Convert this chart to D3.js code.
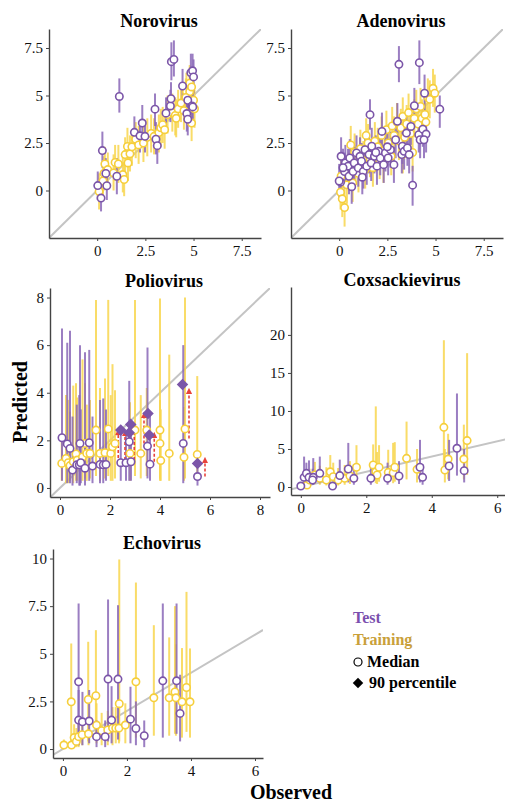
<!DOCTYPE html>
<html>
<head>
<meta charset="utf-8">
<script src="https://cdn.jsdelivr.net/npm/d3@7"></script>
<style>
  body { margin: 0; background: #fff; }
</style>
</head>
<body>
<div id="container"></div>
<script>
// rows: [observed, median predicted, low, high]
let noroTest = [[0.03,0.26,-0.5,1.0],[0.27,2.1,1.2,3.1],[0.2,-0.4,-1.1,0.4],[0.45,0.9,0.1,1.7],[0.5,0.25,-0.5,1.0],
  [1.02,0.75,-0.2,1.7],[1.15,4.95,4.1,5.9],[1.93,3.06,2.2,3.9],[2.34,3.55,2.7,4.5],[2.22,2.88,2.0,3.7],
  [2.48,2.85,2.0,3.7],[3.0,4.28,3.4,5.1],[3.05,2.7,1.9,3.6],[3.12,2.36,1.4,3.2],[3.57,4.07,3.2,4.9],
  [3.8,4.45,3.6,5.3],[3.83,4.83,4.0,5.7],[3.85,6.78,5.8,7.8],[3.98,6.9,6.0,7.9],[4.43,5.5,4.6,6.4],
  [4.7,4.75,3.9,5.6],[4.65,4.05,3.1,4.9],[4.7,3.75,2.9,4.6],[4.86,6.2,5.3,7.2],[4.95,6.3,5.4,7.2],
  [5.0,5.98,5.1,6.9],[4.92,4.45,3.6,5.3],[4.96,4.4,3.5,5.2]]
let noroTrain = [[0.1,-0.05,-1.0,0.9],[0.3,0.5,-0.4,1.4],[0.4,1.4,0.5,2.3],[0.35,0.9,0.0,1.8],[0.55,1.1,0.2,2.0],
  [0.85,0.92,0.0,1.9],[0.93,1.48,0.5,2.4],[1.1,1.4,0.4,2.4],[1.33,0.84,-0.1,1.8],[1.4,0.58,-0.3,1.5],
  [1.45,1.89,0.9,2.8],[1.57,2.32,1.3,3.3],[1.6,1.45,0.5,2.4],[1.7,1.93,1.0,2.9],[1.8,2.3,1.3,3.2],
  [2.0,2.7,1.7,3.6],[2.15,2.4,1.4,3.4],[2.4,2.5,1.5,3.5],[2.6,2.8,1.8,3.8],[2.8,3.0,2.0,4.0],
  [2.95,2.85,1.9,3.8],[3.2,3.05,2.0,4.0],[3.3,3.3,2.3,4.3],[3.4,3.46,2.5,4.4],[3.5,3.2,2.2,4.2],
  [3.65,4.0,3.0,5.0],[3.9,4.1,3.1,5.1],[4.05,3.95,2.9,4.9],[4.1,3.8,2.8,4.8],[4.2,4.3,3.3,5.3],
  [4.35,4.6,3.6,5.6],[4.5,4.2,3.2,5.2],[4.63,5.2,4.2,6.2],[4.8,5.2,4.2,6.2],[4.8,5.65,4.6,6.6],
  [4.9,5.45,4.4,6.4],[5.0,4.75,3.8,5.7],[5.05,4.3,3.3,5.3],[4.9,3.55,2.6,4.5],[4.6,4.9,3.9,5.9]]

let adenoTest = [[0.1,1.8,0.9,2.8],[0.07,0.44,-0.5,1.4],[0.0,0.5,-0.4,1.4],[0.32,1.45,0.5,2.4],[0.28,1.0,0.1,2.0],
  [0.46,1.28,0.3,2.2],[0.55,1.71,0.8,2.7],[0.51,0.75,-0.2,1.7],[0.72,1.0,0.1,2.0],[0.78,1.45,0.5,2.4],
  [0.9,1.98,1.0,2.9],[0.99,1.19,0.2,2.1],[1.08,1.8,0.9,2.8],[1.16,1.54,0.6,2.5],[1.25,1.01,0.1,2.0],
  [1.34,2.15,1.2,3.1],[1.43,1.28,0.3,2.2],[1.55,1.89,0.9,2.8],[1.6,3.99,3.2,4.8],[1.66,1.45,0.5,2.4],
  [1.69,2.33,1.4,3.3],[1.83,1.8,0.9,2.8],[1.96,1.28,0.3,2.2],[2.05,2.06,1.1,3.0],[2.13,1.71,0.8,2.7],
  [2.22,3.11,2.2,4.1],[2.31,1.36,0.4,2.3],[2.4,1.98,1.0,2.9],[2.54,1.71,0.8,2.7],[2.66,2.15,1.2,3.1],
  [2.84,1.36,0.4,2.3],[2.93,2.67,1.7,3.6],[3.02,3.64,2.7,4.6],[3.1,6.64,5.7,7.6],[3.25,1.89,0.9,2.8],
  [3.28,2.33,1.4,3.3],[3.37,2.06,1.1,3.0],[3.49,3.02,2.1,4.0],[3.54,2.24,1.3,3.2],[3.63,1.89,0.9,2.8],
  [3.72,3.37,2.4,4.3],[3.81,0.28,-0.8,1.3],[3.9,4.46,3.5,5.4],[4.13,2.94,2.0,3.9],[4.16,6.73,5.6,7.9],
  [4.2,2.67,1.7,3.6],[4.34,3.23,2.3,4.2],[4.43,5.12,4.1,6.1],[4.51,2.97,2.0,3.9],[4.4,2.67,1.7,3.6],
  [5.22,4.28,3.3,5.0],[0.2,1.2,0.3,2.2],[0.65,0.2,-0.7,1.1],[1.9,2.0,1.0,2.9],[2.5,2.3,1.3,3.2],[1.2,0.7,-0.2,1.6]]
let adenoTrain = [[0.1,0.75,-0.2,1.7],[0.07,-0.09,-1.0,0.9],[0.16,-0.44,-1.4,0.5],[0.28,-0.9,-1.9,0.1],[0.6,2.4,1.4,3.4],
  [0.4,0.3,-0.7,1.3],[0.5,1.0,0.0,2.0],[0.7,0.4,-0.6,1.4],[0.85,1.3,0.3,2.3],[1.0,0.9,-0.1,1.9],
  [1.1,2.2,1.2,3.2],[1.25,1.6,0.6,2.6],[1.35,1.1,0.1,2.1],[1.5,2.5,1.5,3.5],[1.6,1.7,0.7,2.7],
  [1.75,1.2,0.2,2.2],[1.85,2.6,1.6,3.6],[2.0,2.3,1.3,3.3],[2.1,1.6,0.6,2.6],[2.2,2.9,1.9,3.9],
  [2.35,2.1,1.1,3.1],[2.45,3.2,2.2,4.2],[2.55,2.5,1.5,3.5],[2.7,1.8,0.8,2.8],[2.75,3.4,2.4,4.4],
  [2.85,2.9,1.9,3.9],[3.0,3.6,2.6,4.6],[3.1,2.6,1.6,3.6],[3.2,3.3,2.3,4.3],[3.3,3.9,2.9,4.9],
  [3.4,2.8,1.8,3.8],[3.5,3.5,2.5,4.5],[3.6,4.1,3.1,5.1],[3.7,3.0,2.0,4.0],[3.81,2.0,1.0,3.0],
  [3.9,3.8,2.8,4.8],[4.0,4.3,3.3,5.3],[4.1,3.5,2.5,4.5],[4.22,4.42,3.4,5.4],[4.3,3.8,2.8,4.8],
  [4.45,4.0,3.0,5.0],[4.6,4.9,3.9,5.9],[4.7,4.8,3.8,5.8],[4.87,5.38,4.4,6.4],[4.96,5.12,4.1,6.1],
  [3.3,1.9,0.9,2.9],[2.3,1.4,0.4,2.4],[1.4,2.9,1.9,3.8],[0.8,2.0,1.0,3.0],[4.5,3.6,2.6,4.6]]

let polioTest = [[0.08,2.11,0.3,6.7],[0.29,1.85,0.2,6.1],[0.4,1.66,0.2,6.6],[0.5,0.75,0.1,3.0],[0.67,0.97,0.2,3.5],
  [0.77,0.97,0.1,3.9],[0.8,1.87,0.1,6.0],[0.83,1.06,0.2,3.3],[1.0,0.83,0.1,5.7],[1.17,1.9,0.3,5.8],
  [1.3,0.92,0.2,3.0],[1.6,0.99,0.2,3.7],[1.73,0.97,0.2,3.76],[1.84,0.99,0.3,3.3],[2.43,1.06,0.3,2.4],
  [2.64,1.06,0.3,2.3],[2.77,1.94,0.3,4.5],[2.84,1.1,0.3,2.6],[3.5,1.76,0.4,5.9],[3.6,1.0,0.3,3.1],
  [4.93,1.87,0.2,6.0],[5.5,0.48,0.1,1.0]]
let polioTrain = [[0.07,1.03,0.3,2.2],[0.24,1.24,0.2,3.9],[0.33,1.06,0.2,3.7],[0.4,0.94,0.3,3.2],[0.53,1.1,0.2,4.3],
  [0.64,1.43,0.3,4.4],[0.69,1.17,0.3,3.8],[0.9,1.3,0.3,5.4],[1.0,1.87,0.4,4.4],[1.07,1.45,0.3,3.5],
  [1.2,1.45,0.4,3.7],[1.44,2.43,0.5,7.9],[1.6,1.45,0.3,4.2],[1.8,1.48,0.4,4.6],[1.93,2.48,0.5,7.9],
  [2.03,1.45,0.3,3.9],[2.1,1.73,0.3,5.2],[2.2,1.87,0.4,4.1],[2.8,1.45,0.3,3.6],[3.0,2.43,0.5,7.9],
  [3.23,1.45,0.4,3.9],[3.47,2.43,0.5,4.2],[4.0,2.43,0.4,7.96],[4.0,1.87,0.3,3.7],[4.03,1.15,0.3,3.3],
  [4.37,1.45,0.3,5.6],[5.0,2.48,0.4,8.0],[4.96,1.29,0.3,3.4],[5.49,1.41,0.3,4.7]]
// test 90th percentile: [observed, predicted]
let polioP90 = [[2.43,2.43],[2.77,2.32],[2.83,2.67],[3.52,3.13],[3.57,2.22],[4.9,4.35],[5.5,1.03]]
// shift arrows: [observed, from, to]
let polioShift = [[2.33,1.05,2.35],[2.6,1.17,2.3],[2.97,1.17,2.57],[3.36,1.87,3.06],[3.77,1.1,2.22],[5.16,2.08,4.07],[5.8,0.48,1.17]]

let coxTest = [[0,0.13,0,0.5],[0.1,1.27,0.3,4.0],[0.17,1.8,0.5,3.2],[0.25,1.27,0.4,3.5],[0.38,1.27,0.3,3.8],
  [0.36,0.92,0.3,2.4],[0.58,1.8,0.5,4.0],[0.97,0.13,0,0.6],[1.19,1.5,0.4,3.6],[1.45,2.37,0.6,5.8],
  [1.62,1.14,0.3,3.0],[2.14,1.14,0.3,2.8],[2.65,1.14,0.3,3.2],[3.0,1.45,0.4,3.4],[3.64,2.6,0.6,6.2],
  [3.72,1.27,0.3,3.0],[4.53,2.76,0.8,6.2],[4.77,5.09,1.5,12.3],[4.99,2.15,0.6,5.0]]
let coxTrain = [[0.19,0.26,0,1.2],[0.27,0.92,0.2,2.4],[0.43,1.58,0.4,3.3],[0.58,1.14,0.3,2.8],[0.78,0.92,0.2,2.6],
  [0.9,2.0,0.5,4.2],[0.99,1.36,0.3,3.2],[1.14,0.92,0.2,2.5],[1.34,1.14,0.3,2.9],[1.5,1.45,0.4,3.4],
  [1.7,2.6,0.7,5.5],[2.21,2.9,0.8,5.6],[2.29,2.0,0.5,10.6],[2.33,1.58,0.4,4.6],[2.39,2.6,0.7,5.5],
  [2.67,1.93,0.5,4.9],[2.82,1.89,0.5,5.8],[2.87,2.6,0.7,5.9],[3.23,3.77,1.0,8.6],[3.55,2.32,0.6,5.0],
  [4.37,7.85,2.0,19.3],[4.4,2.24,0.6,5.0],[4.5,3.68,1.0,7.0],[4.98,3.68,1.0,8.2],[5.08,6.1,1.6,17.6]]

let echoTest = [[0.49,3.53,0.2,7.64],[0.49,1.52,0.2,3.1],[0.61,1.43,0.2,3.0],[0.82,1.47,0.3,3.1],[1.05,0.65,0.1,1.5],
  [1.32,0.65,0.1,1.5],[1.41,3.67,0.4,7.85],[1.52,1.52,0.3,3.3],[1.72,3.67,0.5,7.55],[2.11,1.57,0.3,3.27],
  [2.28,1.08,0.2,2.5],[2.54,0.7,0.1,1.5],[3.12,3.58,0.6,7.64],[3.55,3.58,0.8,7.64],[3.66,1.87,0.4,3.9]]
let echoTrain = [[0.03,0.21,0,0.5],[0.26,2.48,0.3,5.54],[0.27,0.21,0,0.6],[0.35,0.6,0.1,1.3],[0.42,0.4,0.1,1.1],
  [0.49,0.65,0.1,1.5],[0.6,0.75,0.2,1.6],[0.79,2.6,0.4,5.63],[0.8,0.8,0.2,1.7],[1.03,2.8,0.5,6.24],
  [1.05,1.26,0.3,2.4],[1.21,0.96,0.2,1.9],[1.4,1.0,0.2,2.0],[1.55,1.1,0.2,2.2],[1.65,1.1,0.3,2.2],
  [1.76,2.38,0.4,9.95],[1.75,1.1,0.3,2.2],[1.95,1.26,0.3,2.4],[2.28,3.53,0.6,8.74],[2.84,2.69,0.7,6.5],
  [3.32,2.69,0.7,5.86],[3.5,3.0,0.8,7.5],[3.53,2.69,0.7,5.5],[3.72,2.48,0.6,5.3],[3.86,3.23,0.9,8.25],
  [3.97,2.48,0.6,5.28]]

let ticksQuarter = [0, 2.5, 5, 7.5]
let ticksPolio = [0, 2, 4, 6, 8]
let ticksSix = [0, 2, 4, 6]
let ticksCox = [0, 5, 10, 15, 20]
let ticksEcho = [0, 2.5, 5, 7.5, 10]

let serif = '"Liberation Serif", "Times New Roman", serif'
let purple = '#7b55a8', purpleBar = '#8a68b8'
let gold = '#f6cf3c', goldBar = '#f8d64e'

let panels = [
  {title: 'Norovirus', test: noroTest, train: noroTrain, x: [49, 261], y: [238, 29], xd: [-2.5, 8.5], yd: [-2.5, 8.5], xt: ticksQuarter, yt: ticksQuarter, ty: 27},
  {title: 'Adenovirus', test: adenoTest, train: adenoTrain, x: [291, 503], y: [238, 29], xd: [-2.5, 8.5], yd: [-2.5, 8.5], xt: ticksQuarter, yt: ticksQuarter, ty: 27},
  {title: 'Poliovirus', test: polioTest, train: polioTrain, x: [50, 270], y: [497, 288], xd: [-0.4, 8.4], yd: [-0.38, 8.4], xt: ticksPolio, yt: ticksPolio, ty: 287, p90: polioP90, shift: polioShift},
  {title: 'Coxsackievirus', test: coxTest, train: coxTrain, x: [291, 510], y: [495, 287], xd: [-0.3, 6.39], yd: [-1.05, 26.3], xt: ticksSix, yt: ticksCox, ty: 286},
  {title: 'Echovirus', test: echoTest, train: echoTrain, x: [53, 263], y: [758, 549], xd: [-0.31, 6.25], yd: [-0.47, 10.5], xt: ticksSix, yt: ticksEcho, ty: 549}
]

let svg = d3.select('#container').append('svg')
  .attr('width', 505).attr('height', 802)
  .attr('font-family', serif)

svg.append('defs').append('marker')
  .attr('id', 'arrow').attr('viewBox', '0 0 10 10')
  .attr('refX', 5).attr('refY', 5)
  .attr('markerWidth', 4).attr('markerHeight', 4)
  .attr('orient', 'auto')
  .append('path').attr('d', 'M0,0L10,5L0,10z').attr('fill', '#e8433b')

panels.forEach((p, k) => {
  let x = d3.scaleLinear().domain(p.xd).range(p.x)
  let y = d3.scaleLinear().domain(p.yd).range(p.y)
  let g = svg.append('g')

  g.append('clipPath').attr('id', 'clip' + k).append('rect')
    .attr('x', p.x[0]).attr('y', p.y[1])
    .attr('width', p.x[1] - p.x[0]).attr('height', p.y[0] - p.y[1])

  // y = x reference line
  let lo = Math.max(p.xd[0], p.yd[0]), hi = Math.min(p.xd[1], p.yd[1])
  g.append('line')
    .attr('clip-path', 'url(#clip' + k + ')')
    .attr('x1', x(lo)).attr('y1', y(lo)).attr('x2', x(hi)).attr('y2', y(hi))
    .attr('stroke', '#c4c4c4').attr('stroke-width', 2)

  let bars = (data, color) => g.selectAll(null).data(data).enter().append('line')
    .attr('x1', d => x(d[0])).attr('x2', d => x(d[0]))
    .attr('y1', d => y(d[2])).attr('y2', d => y(d[3]))
    .attr('stroke', color).attr('stroke-width', 2).attr('opacity', 0.85)
  bars(p.train, goldBar)
  bars(p.test, purpleBar)

  if (p.shift) {
    g.selectAll(null).data(p.shift).enter().append('line')
      .attr('x1', d => x(d[0])).attr('x2', d => x(d[0]))
      .attr('y1', d => y(d[1])).attr('y2', d => y(d[2]))
      .attr('stroke', '#e8433b').attr('stroke-width', 1.6)
      .attr('stroke-dasharray', '3,2')
      .attr('marker-end', 'url(#arrow)')
  }

  let dots = (data, color) => g.selectAll(null).data(data).enter().append('circle')
    .attr('cx', d => x(d[0])).attr('cy', d => y(d[1])).attr('r', 3.7)
    .attr('fill', '#fff').attr('stroke', color).attr('stroke-width', 1.6)
  dots(p.train, gold)
  dots(p.test, purple)

  if (p.p90) {
    g.selectAll(null).data(p.p90).enter().append('path')
      .attr('d', d3.symbol().type(d3.symbolDiamond2).size(85))
      .attr('transform', d => 'translate(' + x(d[0]) + ',' + y(d[1]) + ')')
      .attr('fill', purple)
  }

  let fmt = d => String(d)
  let xa = g.append('g').attr('transform', 'translate(0,' + p.y[0] + ')')
    .call(d3.axisBottom(x).tickValues(p.xt).tickFormat(fmt).tickSize(3).tickPadding(4).tickSizeOuter(0))
  let ya = g.append('g').attr('transform', 'translate(' + p.x[0] + ',0)')
    .call(d3.axisLeft(y).tickValues(p.yt).tickFormat(fmt).tickSize(3).tickPadding(3).tickSizeOuter(0))
  ;[xa, ya].forEach(a => {
    a.attr('font-family', serif)
    a.select('.domain').attr('stroke', '#444').attr('stroke-width', 1.4)
    a.selectAll('.tick line').attr('stroke', '#444')
    a.selectAll('.tick text').attr('font-size', 15).attr('fill', '#111')
  })

  g.append('text').text(p.title)
    .attr('x', (p.x[0] + Math.min(p.x[1], 505)) / 2 + 4).attr('y', p.ty)
    .attr('text-anchor', 'middle').attr('font-size', 18).attr('font-weight', 'bold')
})

svg.append('text').text('Predicted')
  .attr('transform', 'translate(27,402) rotate(-90)')
  .attr('text-anchor', 'middle').attr('font-size', 20).attr('font-weight', 'bold')
svg.append('text').text('Observed')
  .attr('x', 291).attr('y', 799)
  .attr('text-anchor', 'middle').attr('font-size', 20).attr('font-weight', 'bold')

let legend = svg.append('g').attr('font-size', 16).attr('font-weight', 'bold')
legend.append('text').text('Test').attr('x', 353).attr('y', 623).attr('fill', '#7b4fae')
legend.append('text').text('Training').attr('x', 353).attr('y', 645).attr('fill', '#c9a03a')
legend.append('circle').attr('cx', 358).attr('cy', 662).attr('r', 4)
  .attr('fill', '#fff').attr('stroke', '#000').attr('stroke-width', 1.2)
legend.append('text').text('Median').attr('x', 367).attr('y', 667)
legend.append('path').attr('d', d3.symbol().type(d3.symbolDiamond2).size(70))
  .attr('transform', 'translate(358,683)')
legend.append('text').text('90 percentile').attr('x', 369).attr('y', 688)
</script>
</body>
</html>
